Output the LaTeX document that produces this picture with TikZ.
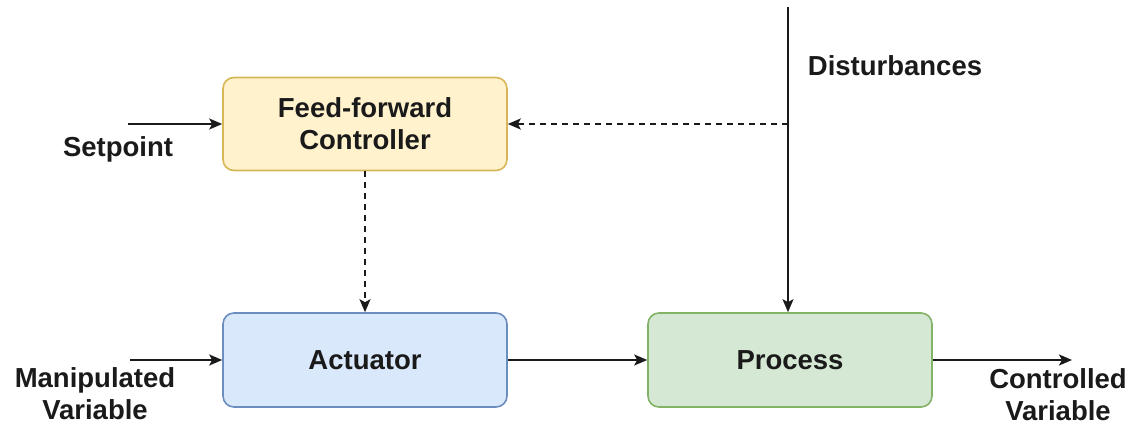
\documentclass[tikz,border=0pt]{standalone}
\usepackage{fontspec}
\setmainfont{Liberation Sans}
\usetikzlibrary{arrows.meta}
\definecolor{ffFill}{HTML}{FFF2CC}
\definecolor{ffLine}{HTML}{D6B656}
\definecolor{actFill}{HTML}{DAE8FC}
\definecolor{actLine}{HTML}{6C8EBF}
\definecolor{prFill}{HTML}{D5E8D4}
\definecolor{prLine}{HTML}{82B366}
\definecolor{txt}{HTML}{1A1A1A}
\tikzset{
  blk/.style={rounded corners=11pt, line width=1.6pt, minimum width=284pt, minimum height=93pt,
    align=center, text=txt, font=\fontsize{27.5}{32}\selectfont\bfseries},
  lbl/.style={align=center, text=txt, font=\fontsize{27.5}{32}\selectfont\bfseries, inner sep=0pt},
  arr/.style={line width=2pt, draw=txt, -{Stealth[length=13pt,width=11pt,inset=3pt]}},
  darr/.style={arr, dash pattern=on 6pt off 5pt}
}
\begin{document}
\begin{tikzpicture}[x=1pt,y=-1pt]
\useasboundingbox (0,0) rectangle (1134,427);
\node[blk, fill=ffFill, draw=ffLine] (ff) at (365,124) {Feed-forward\\Controller};
\node[blk, fill=actFill, draw=actLine, minimum height=94pt] (act) at (365,360) {Actuator};
\node[blk, fill=prFill, draw=prLine, minimum height=94pt] (proc) at (790,360) {Process};
\coordinate (sp) at (128,124);
\coordinate (mv) at (130,360);
\coordinate (cv) at (1072,360);
\coordinate (dtop) at (788,7);
\coordinate (dtap) at (788,124);
\node[lbl] (splbl) at (118,149) {Setpoint};
\node[lbl] (mvlbl) at (95,394) {Manipulated\\Variable};
\node[lbl] (cvlbl) at (1058,395) {Controlled\\Variable};
\node[lbl] (dlbl) at (895,66) {Disturbances};
\draw[arr] (sp) -- (ff.west);
\draw[arr] (mv) -- (act.west);
\draw[arr] (act.east) -- (proc.west);
\draw[arr] (proc.east) -- (cv);
\draw[arr] (dtop) -- (dtop |- proc.north);
\draw[darr] (dtap) -- (ff.east);
\draw[darr] (ff.south) -- (act.north);
\end{tikzpicture}
\end{document}
